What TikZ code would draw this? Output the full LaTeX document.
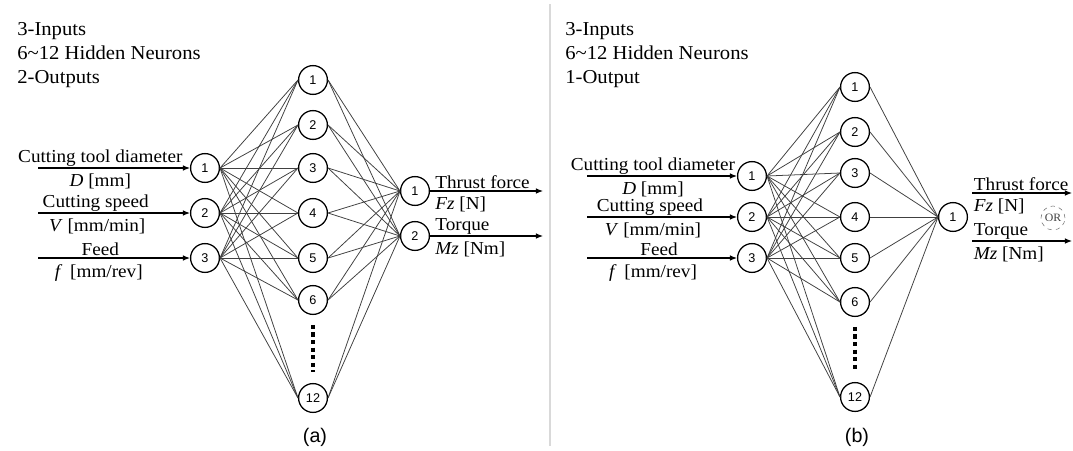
\documentclass[tikz,border=0pt]{standalone}
\usepackage{fontspec}
\setmainfont[FakeStretch=1.05]{Liberation Serif}
\newfontfamily\figsans{Liberation Sans}
\usepackage{tikz}
\usetikzlibrary{arrows.meta}

\begin{document}
\begin{tikzpicture}[x=0.025cm,y=-0.025cm,
    neuron/.style={draw,line width=0.9pt,circle,minimum size=0.72cm,inner sep=0pt,font=\figsans\fontsize{9}{9}\selectfont},
    link/.style={black!75,line width=0.55pt},
    feed/.style={-{Latex[length=5pt,width=4pt]},line width=0.8pt},
    lbl/.style={font=\fontsize{13}{13}\selectfont,inner sep=1pt},
    under/.style={lbl,yshift=-3pt},
    head/.style={anchor=north west,align=left,inner sep=0pt,font=\fontsize{14}{17}\selectfont},
    dots/.style={line width=3pt,dash pattern=on 3pt off 2.4pt,shorten <=7pt,shorten >=8pt},
    subcap/.style={font=\figsans\fontsize{14}{14}\selectfont}]
  \useasboundingbox (0,0) rectangle (1073,450);
  \draw[black!15,line width=1.5pt] (550,4) -- (550,446);
  % network (a)
  \node[head] (ahead) at (17,22) {3-Inputs\\6\textasciitilde12 Hidden Neurons\\2-Outputs};
  \foreach \n/\y in {1/168,2/213,3/258}{\node[neuron] (ai\n) at (205,\y) {\n};}
  \foreach \n/\y in {1/80,2/125,3/168,4/213,5/258,6/300,12/398}{\node[neuron] (ah\n) at (313,\y) {\n};}
  \node[neuron] (ao1) at (415,191) {1};
  \node[neuron] (ao2) at (415,236) {2};
  \foreach \h in {1,...,6,12}{
    \foreach \i in {1,2,3}{\draw[link] (ai\i.east) -- (ah\h.west);}
    \foreach \o in {1,2}{\draw[link] (ah\h.east) -- (ao\o.west);}}
  \draw[dots] (ah6) -- (ah12);
  \coordinate (as1) at (38,168); \coordinate (as2) at (38,213); \coordinate (as3) at (38,258);
  \draw[feed] (as1) -- (ai1) node[lbl,above,pos=0.41] {Cutting tool diameter} node[under,below,pos=0.41] {\textit{D} [mm]};
  \draw[feed] (as2) -- (ai2) node[lbl,above,pos=0.38] {Cutting speed} node[under,below,pos=0.39] {\textit{V} [mm/min]};
  \draw[feed] (as3) -- (ai3) node[lbl,above,pos=0.41] {Feed} node[under,below,pos=0.4] {\textit{f} \,[mm/rev]};
  \coordinate (ae1) at (543,191); \coordinate (ae2) at (543,236);
  \draw[feed] (ao1) -- (ae1) node[lbl,pos=0.03,anchor=south west] {Thrust force} node[under,pos=0.03,anchor=north west] {\textit{Fz} [N]};
  \draw[feed] (ao2) -- (ae2) node[lbl,pos=0.03,anchor=south west] {Torque} node[under,pos=0.03,anchor=north west] {\textit{Mz} [Nm]};
  \node[subcap] (capa) at (315,437) {(a)};
  % network (b)
  \node[head] (bhead) at (565,22) {3-Inputs\\6\textasciitilde12 Hidden Neurons\\1-Output};
  \foreach \n/\y in {1/176,2/217,3/258}{\node[neuron] (bi\n) at (752,\y) {\n};}
  \foreach \n/\y in {1/87,2/132,3/173,4/217,5/258,6/302,12/397}{\node[neuron] (bh\n) at (855,\y) {\n};}
  \node[neuron] (bo1) at (953,217) {1};
  \foreach \h in {1,...,6,12}{
    \foreach \i in {1,2,3}{\draw[link] (bi\i.east) -- (bh\h.west);}
    \draw[link] (bh\h.east) -- (bo1.west);}
  \draw[dots] (bh6) -- (bh12);
  \coordinate (bs1) at (587,176); \coordinate (bs2) at (587,217); \coordinate (bs3) at (587,258);
  \draw[feed] (bs1) -- (bi1) node[lbl,above,pos=0.44] {Cutting tool diameter} node[under,below,pos=0.44] {\textit{D} [mm]};
  \draw[feed] (bs2) -- (bi2) node[lbl,above,pos=0.42] {Cutting speed} node[under,below,pos=0.44] {\textit{V} [mm/min]};
  \draw[feed] (bs3) -- (bi3) node[lbl,above,pos=0.48] {Feed} node[under,below,pos=0.44] {\textit{f} \,[mm/rev]};
  \coordinate (bf1) at (972,193); \coordinate (bg1) at (1072,193);
  \coordinate (bf2) at (972,241); \coordinate (bg2) at (1072,241);
  \draw[feed] (bf1) -- (bg1) node[lbl,pos=0,anchor=south west] {Thrust force} node[under,pos=0,anchor=north west] {\textit{Fz} [N]};
  \draw[feed] (bf2) -- (bg2) node[lbl,pos=0,anchor=south west] {Torque} node[under,pos=0,anchor=north west] {\textit{Mz} [Nm]};
  \node[draw,dashed,circle,black!55,text=black!75,minimum size=0.6cm,inner sep=0pt,font=\fontsize{8}{8}\selectfont] (bor) at (1053,218) {OR};
  \node[subcap] (capb) at (857,437) {(b)};
\end{tikzpicture}
\end{document}
